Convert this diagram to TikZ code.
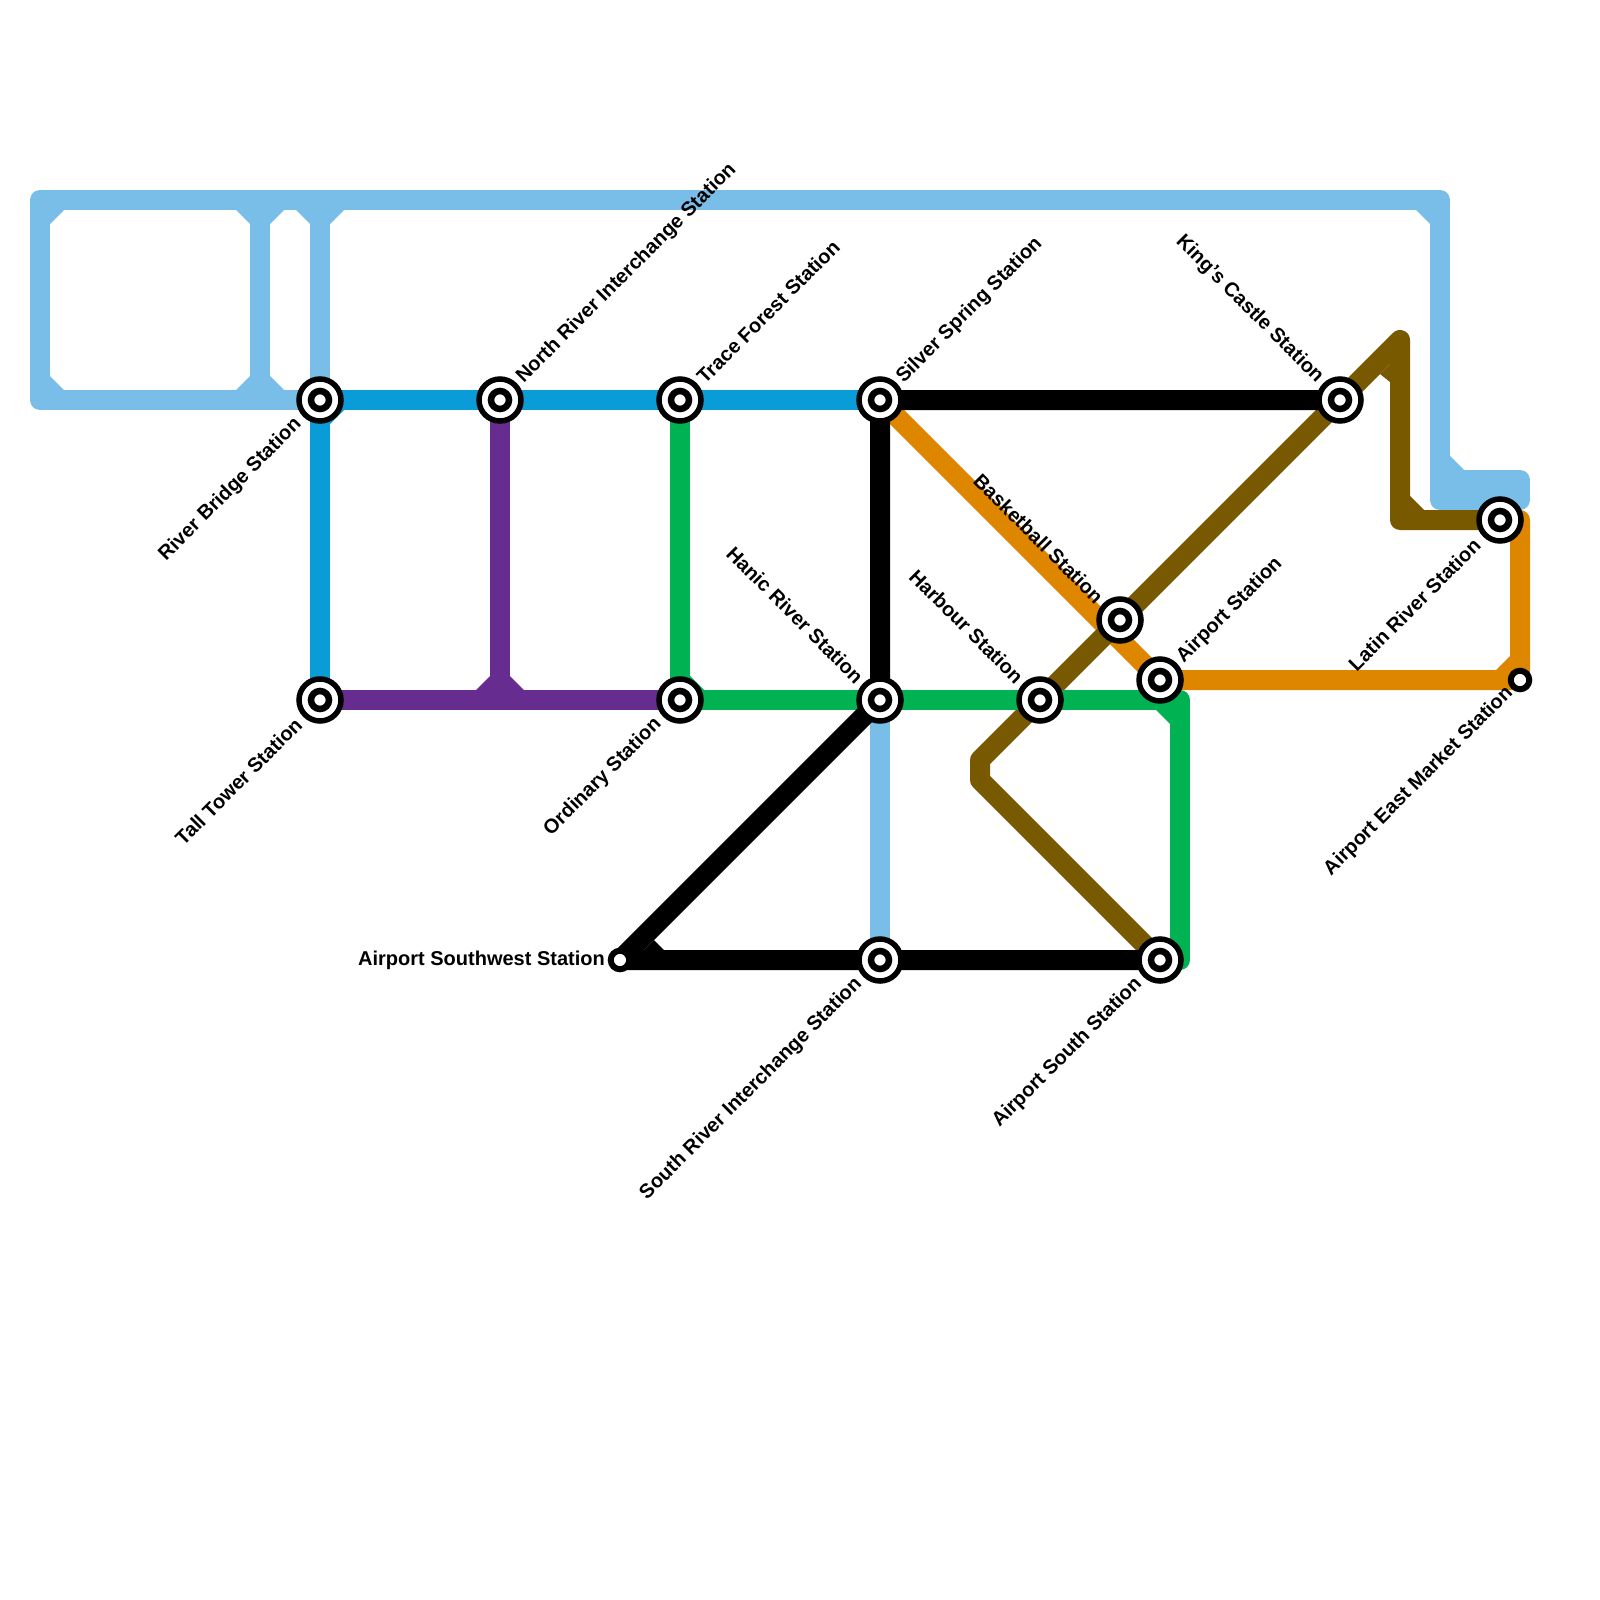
\documentclass[tikz,border=0pt]{standalone}
\usepackage{fontspec}
\setmainfont{Liberation Sans}
\definecolor{skyline}{HTML}{79BDE9}
\definecolor{blueline}{HTML}{0A9BD9}
\definecolor{purpleline}{HTML}{662C90}
\definecolor{greenline}{HTML}{00B251}
\definecolor{brownline}{HTML}{795900}
\definecolor{orangeline}{HTML}{DF8600}
\pgfdeclarelayer{lines}
\pgfsetlayers{lines,main}
\tikzset{
  metro/.style={line width=20pt,line join=round,line cap=round},
  station/.style={circle,draw=black,fill=white,line width=5.5pt,inner sep=0pt,minimum size=42pt,
    path picture={\draw[black,line width=6.5pt] (path picture bounding box.center) circle (9pt);}},
  terminal/.style={circle,draw=black,fill=white,line width=6pt,inner sep=0pt,minimum size=18.5pt},
  lab/.style={font=\bfseries\fontsize{20}{22}\selectfont,inner sep=0pt,text=black},
  labNE/.style={lab,rotate=45,anchor=west},
  labSW/.style={lab,rotate=45,anchor=east},
  labNW/.style={lab,rotate=-45,anchor=east},
}
% corner fillet: colour, corner x, corner y, sign x, sign y
\newcommand{\fillet}[5]{\fill[#1] (#2,#3) -- ++(#4*14,0) -- ++(-#4*14,#5*14) -- cycle;}
\begin{document}
\begin{tikzpicture}[x=1pt,y=-1pt]
\useasboundingbox (0,0) rectangle (1600,1600);
% stations
\node[station] (rb) at (320,400) {};
\node[station] (nr) at (500,400) {};
\node[station] (tf) at (680,400) {};
\node[station] (ss) at (880,400) {};
\node[station] (kc) at (1340,400) {};
\node[station] (tt) at (320,700) {};
\node[station] (od) at (680,700) {};
\node[station] (hr) at (880,700) {};
\node[station] (hb) at (1040,700) {};
\node[station] (bb) at (1120,620) {};
\node[station] (ap) at (1160,680) {};
\node[station] (as) at (1160,960) {};
\node[station] (sr) at (880,960) {};
\node[station] (lr) at (1500,520) {};
\node[terminal] (sw) at (620,960) {};
\node[terminal] (em) at (1520,680) {};
% bends
\coordinate (a1) at (40,400);
\coordinate (a2) at (40,200);
\coordinate (a3) at (1440,200);
\coordinate (a4) at (1440,500);
\coordinate (a5) at (1520,500);
\coordinate (a6) at (1520,480);
\coordinate (a7) at (1440,480);
\coordinate (a8) at (260,200);
\coordinate (a9) at (260,400);
\coordinate (a10) at (320,200);
\coordinate (b1) at (1400,520);
\coordinate (b2) at (1400,340);
\coordinate (b3) at (980,760);
\coordinate (b4) at (980,780);
\coordinate (g1) at (1180,700);
\coordinate (g2) at (1180,960);
\coordinate (o1) at (1520,520);
\coordinate (p1) at (500,700);
\begin{pgfonlayer}{lines}
% light blue
\draw[metro,skyline] (rb.center) -- (a1) -- (a2) -- (a3) -- (a4) -- (a5) -- (a6) -- (a7);
\draw[metro,skyline] (a8) -- (a9);
\draw[metro,skyline] (a10) -- (rb.center);
\draw[metro,skyline] (hr.center) -- (sr.center);
\fillet{skyline}{50}{210}{1}{1}
\fillet{skyline}{50}{390}{1}{-1}
\fillet{skyline}{250}{210}{-1}{1}
\fillet{skyline}{270}{210}{1}{1}
\fillet{skyline}{250}{390}{-1}{-1}
\fillet{skyline}{270}{390}{1}{-1}
\fillet{skyline}{310}{210}{-1}{1}
\fillet{skyline}{330}{210}{1}{1}
\fillet{skyline}{1430}{210}{-1}{1}
\fillet{skyline}{1450}{470}{1}{-1}
% orange
\draw[metro,orangeline] (ss.center) -- (ap.center) -- (em.center) -- (o1) -- (lr.center);
\fillet{orangeline}{1510}{670}{-1}{-1}
% brown
\draw[metro,brownline] (lr.center) -- (b1) -- (b2) -- (kc.center) -- (bb.center) -- (hb.center) -- (b3) -- (b4) -- (as.center);
\fillet{brownline}{1410}{510}{1}{-1}
\fill[brownline] (1390,364) -- (1390,382) -- (1380,374) -- cycle;
% green
\draw[metro,greenline] (tf.center) -- (od.center) -- (hr.center) -- (hb.center) -- (g1) -- (g2) -- (as.center);
\fillet{greenline}{1170}{710}{-1}{1}
\fillet{greenline}{690}{690}{1}{-1}
% black
\draw[metro,black] (kc.center) -- (ss.center) -- (hr.center) -- (sw.center) -- (as.center);
\fill[black] (644,950) -- (664,950) -- (654,940) -- cycle;
% mid blue
\draw[metro,blueline] (tt.center) -- (rb.center) -- (ss.center);
\fillet{blueline}{330}{410}{1}{1}
% purple
\draw[metro,purpleline] (tt.center) -- (od.center);
\draw[metro,purpleline] (nr.center) -- (p1);
\fillet{purpleline}{490}{690}{-1}{-1}
\fillet{purpleline}{510}{690}{1}{-1}
\end{pgfonlayer}
% labels
\node[labSW] (lrb) at ([shift={(-21.5,21.5)}]rb.center) {River Bridge Station};
\node[labNE] (lnr) at ([shift={(20,-20)}]nr.center) {North River Interchange Station};
\node[labNE] (ltf) at ([shift={(20,-20)}]tf.center) {Trace Forest Station};
\node[labNE] (lss) at ([shift={(20,-20)}]ss.center) {Silver Spring Station};
\node[labNW] (lkc) at ([shift={(-20,-20)}]kc.center) {King's Castle Station};
\node[labSW] (ltt) at ([shift={(-21.5,21.5)}]tt.center) {Tall Tower Station};
\node[labSW] (lod) at ([shift={(-21.5,21.5)}]od.center) {Ordinary Station};
\node[labNW] (lhr) at ([shift={(-20,-20)}]hr.center) {Hanic River Station};
\node[labNW] (lhb) at ([shift={(-20,-20)}]hb.center) {Harbour Station};
\node[labNW] (lbb) at ([shift={(-20,-20)}]bb.center) {Basketball Station};
\node[labNE] (lap) at ([shift={(20,-20)}]ap.center) {Airport Station};
\node[labSW] (las) at ([shift={(-21,21)}]as.center) {Airport South Station};
\node[labSW] (lsr) at ([shift={(-21,21)}]sr.center) {South River Interchange Station};
\node[labSW] (llr) at ([shift={(-23,22)}]lr.center) {Latin River Station};
\node[labSW] (lem) at ([shift={(-10,10)}]em.center) {Airport East Market Station};
\node[lab,anchor=east] (lsw) at ([shift={(-15,0)}]sw.center) {Airport Southwest Station};
\end{tikzpicture}
\end{document}
